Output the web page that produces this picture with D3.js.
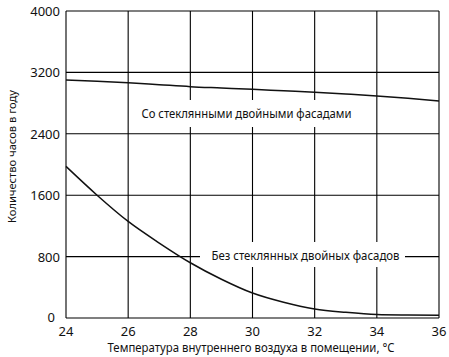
<!DOCTYPE html>
<html><head><meta charset="utf-8">
<script src="https://cdn.jsdelivr.net/npm/d3@7"></script>
<style>body{margin:0;background:#fff}svg{display:block}text{font-family:"Noto Sans",sans-serif;fill:#111}</style>
</head><body><svg id="c" width="449" height="357"></svg>
<script>
const temps = [24,25,26,27,28,29,30,31,32,33,34,35,36];
const withFacades = [3100,3085,3066,3040,3014,2997,2980,2960,2941,2918,2893,2862,2827];
const withoutFacades = [1975,1600,1258,977,720,505,325,205,118,74,45,38,35];
const xTicks = [24,26,28,30,32,34,36];
const yTicks = [0,800,1600,2400,3200,4000];
const labelWith = "Со стеклянными двойными фасадами";
const labelWithout = "Без стеклянных двойных фасадов";
const xTitle = "Температура внутреннего воздуха в помещении, °C";
const yTitle = "Количество часов в году";

const svg = d3.select("#c");
const m = {l:66, r:439, t:11, b:318};
const x = d3.scaleLinear().domain([24,36]).range([m.l, m.r]);
const y = d3.scaleLinear().domain([0,4000]).range([m.b, m.t]);

// grid
svg.append("g").selectAll("line").data(xTicks).join("line")
  .attr("x1", d=>x(d)).attr("x2", d=>x(d)).attr("y1", m.t).attr("y2", m.b)
  .attr("stroke","#000").attr("stroke-width",1.1);
svg.append("g").selectAll("line").data(yTicks).join("line")
  .attr("x1", m.l).attr("x2", m.r).attr("y1", d=>y(d)).attr("y2", d=>y(d))
  .attr("stroke","#000").attr("stroke-width",1.1);

const line = d3.line().x((d,i)=>x(temps[i])).y(d=>y(d)).curve(d3.curveMonotoneX);
svg.append("path").datum(withFacades).attr("d", line).attr("fill","none").attr("stroke","#111").attr("stroke-width",1.5);
svg.append("path").datum(withoutFacades).attr("d", line).attr("fill","none").attr("stroke","#111").attr("stroke-width",1.5);

// labels with white boxes
function boxLabel(txt, cx, cy, w, bx0, bx1, by0, by1){
  svg.append("rect").attr("fill","#fff").attr("x", bx0).attr("y", by0)
    .attr("width", bx1-bx0).attr("height", by1-by0);
  svg.append("text").attr("x",cx).attr("y",cy).attr("text-anchor","middle")
    .attr("dominant-baseline","central").attr("font-size",12.5)
    .attr("textLength", w).attr("lengthAdjust","spacingAndGlyphs").text(txt);
}
boxLabel(labelWith, 246.5, 113, 210, 134, 358, 100, 127);
boxLabel(labelWithout, 305.5, 255, 188, 200, 405, 242, 267);

// axis tick labels
svg.append("g").selectAll("text").data(yTicks).join("text")
  .attr("x", d=> d===0 ? 55 : 60).attr("y", d=> d===0 ? y(d)-1 : y(d)).attr("text-anchor","end")
  .attr("dominant-baseline","central").attr("font-size",13).text(d=>d);
svg.append("g").selectAll("text").data(xTicks).join("text")
  .attr("x", d=>x(d)).attr("y", 331).attr("text-anchor","middle")
  .attr("dominant-baseline","central").attr("font-size",13).text(d=>d);

svg.append("text").attr("x", 251).attr("y", 347).attr("text-anchor","middle")
  .attr("dominant-baseline","central").attr("font-size",12.5)
  .attr("textLength", 287).attr("lengthAdjust","spacingAndGlyphs").text(xTitle);
svg.append("text").attr("transform","translate(11,156.5) rotate(-90)").attr("text-anchor","middle")
  .attr("dominant-baseline","central").attr("font-size",11)
  .attr("textLength", 133).attr("lengthAdjust","spacingAndGlyphs").text(yTitle);
</script></body></html>
